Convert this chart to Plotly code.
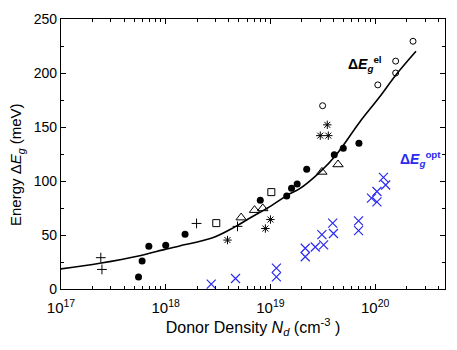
import plotly.graph_objects as go

# ---- data ----
plus_N = [2.4e17, 2.46e17, 1.97e18, 4.85e18]
plus_E = [29.0, 18.1, 60.7, 58.0]

dot_N = [5.5e17, 5.95e17, 6.9e17, 1.0e18, 1.53e18, 8.0e18, 1.43e19, 1.59e19, 1.8e19, 2.22e19, 4.07e19, 4.96e19, 7.0e19]
dot_E = [11.2, 26.0, 39.6, 40.5, 50.7, 82.1, 86.0, 93.3, 97.2, 110.8, 124.4, 130.4, 135.0]

sq_N = [3.04e18, 1.02e19]
sq_E = [61.0, 89.7]

tri_N = [5.25e18, 7.05e18, 8.45e18, 3.1e19, 4.42e19]
tri_E = [66.1, 73.0, 74.6, 108.4, 115.3]

circ_N = [3.15e19, 1.06e20, 1.57e20, 1.57e20, 2.3e20]
circ_E = [169.7, 189.0, 200.0, 211.0, 229.4]

ast_N = [3.89e18, 8.95e18, 1.0e19, 3.49e19, 2.99e19, 3.57e19]
ast_E = [45.3, 56.0, 64.3, 152.0, 142.0, 142.0]

opt_N = [2.72e18, 4.64e18, 1.14e19, 1.14e19, 2.15e19, 2.15e19, 2.68e19, 3.22e19, 3.1e19,
         3.93e19, 4.0e19, 6.94e19, 6.94e19, 9.23e19, 1.04e20, 1.04e20, 1.2e20, 1.26e20]
opt_E = [4.5, 9.7, 19.3, 11.2, 37.7, 29.9, 38.9, 40.8, 50.4,
         61.0, 51.4, 63.1, 54.1, 84.2, 90.3, 80.6, 103.3, 96.3]

curve_logN = [17.0, 17.371, 17.752, 18.0, 18.133, 18.448, 18.657, 18.8, 18.99, 19.181,
              19.276, 19.467, 19.629, 19.848, 20.038, 20.2, 20.39]
curve_E = [18.6, 23.8, 30.8, 36.9, 39.9, 47.4, 57.3, 65.5, 76.1, 88.1,
           92.7, 107.8, 124.4, 154.0, 177.3, 198.4, 220.1]

x_major = [1e17, 1e18, 1e19, 1e20]
x_major_text = ["10<sup>17</sup>", "10<sup>18</sup>", "10<sup>19</sup>", "10<sup>20</sup>"]
y_major = [0, 50, 100, 150, 200, 250]

curve_N = [10.0 ** v for v in curve_logN]
x_minor = [float(m) * 10.0 ** e for e in range(17, 21) for m in range(2, 10) if m * 10.0 ** e < 4.6e20]

FONT = "Arial, Liberation Sans"
BLUE = "#2a2af0"

fig = go.Figure()
fig.add_trace(go.Scatter(x=curve_N, y=curve_E, mode="lines", line=dict(color="black", width=1.6, shape="spline")))

def pts(x, y, symbol, size, color="black", lw=1):
    fig.add_trace(go.Scatter(x=x, y=y, mode="markers",
                             marker=dict(symbol=symbol, size=size, color=color, line=dict(color=color, width=lw))))

pts(plus_N, plus_E, "cross-thin-open", 7)
pts(dot_N, dot_E, "circle", 7, lw=0)
pts(sq_N, sq_E, "square-open", 7)
pts(tri_N, tri_E, "triangle-up-open", 9)
pts(circ_N, circ_E, "circle-open", 6)
pts(ast_N, ast_E, "asterisk-open", 7)
pts(opt_N, opt_E, "x-thin-open", 9, color=BLUE, lw=1.2)

fig.add_annotation(xref="paper", yref="paper", x=0.742, y=0.835, xanchor="left", yanchor="middle",
                   text="<b>Δ<i>E</i></b><sub><b><i>g</i></b></sub><sup><b>el</b></sup>", showarrow=False,
                   font=dict(family=FONT, size=14, color="black"))
fig.add_annotation(xref="paper", yref="paper", x=0.878, y=0.48, xanchor="left", yanchor="middle",
                   text="<b>Δ<i>E</i></b><sub><b><i>g</i></b></sub><sup><b>opt</b></sup>", showarrow=False,
                   font=dict(family=FONT, size=14, color=BLUE))
# y-axis title (placed as in the reference, slightly below the plot centre)
fig.add_annotation(xref="paper", yref="paper", x=-0.114, y=0.46, xanchor="center", yanchor="middle",
                   text="Energy Δ<i>E</i><sub><i>g</i></sub> (meV)", textangle=-90, showarrow=False,
                   font=dict(family=FONT, size=15, color="black"))

fig.update_layout(
    width=457, height=350, margin=dict(l=61, r=11, t=13, b=61),
    paper_bgcolor="white", plot_bgcolor="white", showlegend=False,
    font=dict(family=FONT, size=14, color="black"),
)
fig.update_xaxes(type="log", range=[17, 20.667], tickvals=x_major, ticktext=x_major_text,
                 ticks="inside", ticklen=5, tickwidth=1, tickcolor="black",
                 showline=True, linecolor="black", linewidth=1.2, mirror="allticks",
                 showgrid=False, zeroline=False, ticklabelstandoff=5,
                 minor=dict(tickvals=x_minor, ticks="inside", ticklen=3, tickcolor="black", showgrid=False),
                 title=dict(text="Donor Density <i>N</i><sub><i>d</i></sub> (cm<sup>-3</sup> )", font=dict(size=16), standoff=6),
                 tickfont=dict(size=15))
fig.update_yaxes(range=[0, 250], tickvals=y_major,
                 ticks="inside", ticklen=5, tickwidth=1, tickcolor="black",
                 showline=True, linecolor="black", linewidth=1.2, mirror="allticks",
                 showgrid=False, zeroline=False,
                 minor=dict(dtick=25, ticks="inside", ticklen=3, tickcolor="black", showgrid=False),
                 tickfont=dict(size=14))

fig.write_html("out.html")
